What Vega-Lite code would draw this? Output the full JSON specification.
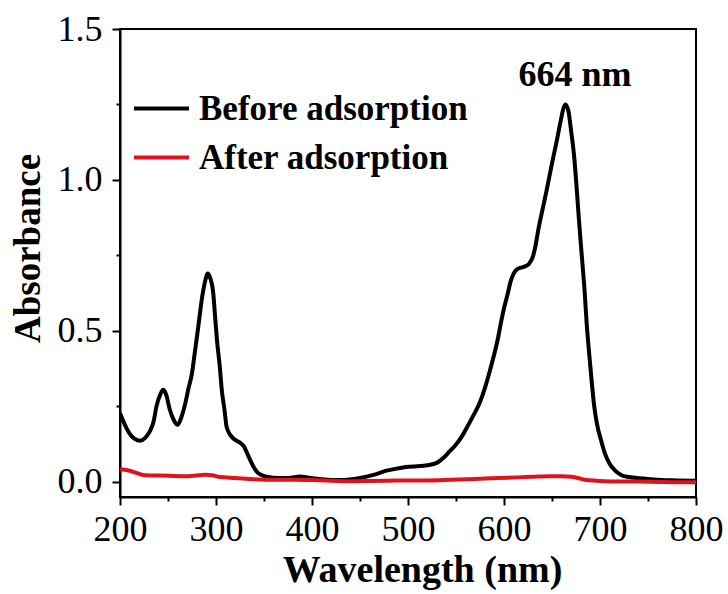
{
  "$schema": "https://vega.github.io/schema/vega-lite/v6.json",
  "width": 576,
  "height": 468,
  "autosize": {"type": "none"},
  "padding": {"left": 120, "top": 29, "right": 32, "bottom": 97},
  "background": "white",
  "config": {
    "view": {"stroke": "black", "strokeWidth": 2},
    "font": "Liberation Serif",
    "axis": {"grid": false, "domainColor": "black", "tickColor": "black", "domainWidth": 2, "tickWidth": 2, "labelColor": "black", "titleColor": "black", "labelFont": "Liberation Serif", "titleFont": "Liberation Serif"}
  },
  "datasets": {
    "spectra": [
      {"wl": 200, "abs": 0.227, "s": "Before adsorption"},
      {"wl": 205, "abs": 0.19, "s": "Before adsorption"},
      {"wl": 210, "abs": 0.16, "s": "Before adsorption"},
      {"wl": 215, "abs": 0.143, "s": "Before adsorption"},
      {"wl": 221, "abs": 0.136, "s": "Before adsorption"},
      {"wl": 226, "abs": 0.145, "s": "Before adsorption"},
      {"wl": 231, "abs": 0.167, "s": "Before adsorption"},
      {"wl": 235, "abs": 0.2, "s": "Before adsorption"},
      {"wl": 238, "abs": 0.25, "s": "Before adsorption"},
      {"wl": 242, "abs": 0.29, "s": "Before adsorption"},
      {"wl": 245, "abs": 0.305, "s": "Before adsorption"},
      {"wl": 248, "abs": 0.29, "s": "Before adsorption"},
      {"wl": 252, "abs": 0.238, "s": "Before adsorption"},
      {"wl": 256, "abs": 0.205, "s": "Before adsorption"},
      {"wl": 260, "abs": 0.189, "s": "Before adsorption"},
      {"wl": 264, "abs": 0.215, "s": "Before adsorption"},
      {"wl": 268, "abs": 0.26, "s": "Before adsorption"},
      {"wl": 271, "abs": 0.305, "s": "Before adsorption"},
      {"wl": 275, "abs": 0.36, "s": "Before adsorption"},
      {"wl": 278, "abs": 0.43, "s": "Before adsorption"},
      {"wl": 282, "abs": 0.525, "s": "Before adsorption"},
      {"wl": 285, "abs": 0.6, "s": "Before adsorption"},
      {"wl": 288, "abs": 0.655, "s": "Before adsorption"},
      {"wl": 291.5, "abs": 0.69, "s": "Before adsorption"},
      {"wl": 294, "abs": 0.675, "s": "Before adsorption"},
      {"wl": 297, "abs": 0.63, "s": "Before adsorption"},
      {"wl": 299, "abs": 0.55, "s": "Before adsorption"},
      {"wl": 301, "abs": 0.47, "s": "Before adsorption"},
      {"wl": 304, "abs": 0.38, "s": "Before adsorption"},
      {"wl": 306, "abs": 0.305, "s": "Before adsorption"},
      {"wl": 309, "abs": 0.235, "s": "Before adsorption"},
      {"wl": 311, "abs": 0.183, "s": "Before adsorption"},
      {"wl": 315, "abs": 0.155, "s": "Before adsorption"},
      {"wl": 320, "abs": 0.139, "s": "Before adsorption"},
      {"wl": 325, "abs": 0.13, "s": "Before adsorption"},
      {"wl": 329, "abs": 0.118, "s": "Before adsorption"},
      {"wl": 332, "abs": 0.098, "s": "Before adsorption"},
      {"wl": 336, "abs": 0.07, "s": "Before adsorption"},
      {"wl": 340, "abs": 0.045, "s": "Before adsorption"},
      {"wl": 343, "abs": 0.032, "s": "Before adsorption"},
      {"wl": 348, "abs": 0.022, "s": "Before adsorption"},
      {"wl": 353, "abs": 0.017, "s": "Before adsorption"},
      {"wl": 365, "abs": 0.013, "s": "Before adsorption"},
      {"wl": 375, "abs": 0.013, "s": "Before adsorption"},
      {"wl": 388, "abs": 0.018, "s": "Before adsorption"},
      {"wl": 395, "abs": 0.015, "s": "Before adsorption"},
      {"wl": 410, "abs": 0.009, "s": "Before adsorption"},
      {"wl": 430, "abs": 0.006, "s": "Before adsorption"},
      {"wl": 450, "abs": 0.013, "s": "Before adsorption"},
      {"wl": 465, "abs": 0.024, "s": "Before adsorption"},
      {"wl": 475, "abs": 0.035, "s": "Before adsorption"},
      {"wl": 490, "abs": 0.045, "s": "Before adsorption"},
      {"wl": 500, "abs": 0.05, "s": "Before adsorption"},
      {"wl": 510, "abs": 0.052, "s": "Before adsorption"},
      {"wl": 520, "abs": 0.055, "s": "Before adsorption"},
      {"wl": 530, "abs": 0.063, "s": "Before adsorption"},
      {"wl": 537, "abs": 0.08, "s": "Before adsorption"},
      {"wl": 543, "abs": 0.1, "s": "Before adsorption"},
      {"wl": 549, "abs": 0.12, "s": "Before adsorption"},
      {"wl": 556, "abs": 0.15, "s": "Before adsorption"},
      {"wl": 563, "abs": 0.19, "s": "Before adsorption"},
      {"wl": 569, "abs": 0.225, "s": "Before adsorption"},
      {"wl": 575, "abs": 0.265, "s": "Before adsorption"},
      {"wl": 580, "abs": 0.31, "s": "Before adsorption"},
      {"wl": 585, "abs": 0.365, "s": "Before adsorption"},
      {"wl": 590, "abs": 0.425, "s": "Before adsorption"},
      {"wl": 594, "abs": 0.48, "s": "Before adsorption"},
      {"wl": 597, "abs": 0.53, "s": "Before adsorption"},
      {"wl": 600, "abs": 0.575, "s": "Before adsorption"},
      {"wl": 604, "abs": 0.625, "s": "Before adsorption"},
      {"wl": 607, "abs": 0.665, "s": "Before adsorption"},
      {"wl": 610, "abs": 0.69, "s": "Before adsorption"},
      {"wl": 614, "abs": 0.705, "s": "Before adsorption"},
      {"wl": 618, "abs": 0.71, "s": "Before adsorption"},
      {"wl": 622, "abs": 0.714, "s": "Before adsorption"},
      {"wl": 626, "abs": 0.722, "s": "Before adsorption"},
      {"wl": 630, "abs": 0.745, "s": "Before adsorption"},
      {"wl": 633, "abs": 0.785, "s": "Before adsorption"},
      {"wl": 636, "abs": 0.84, "s": "Before adsorption"},
      {"wl": 640, "abs": 0.9, "s": "Before adsorption"},
      {"wl": 645, "abs": 0.975, "s": "Before adsorption"},
      {"wl": 650, "abs": 1.055, "s": "Before adsorption"},
      {"wl": 655, "abs": 1.13, "s": "Before adsorption"},
      {"wl": 659, "abs": 1.195, "s": "Before adsorption"},
      {"wl": 662, "abs": 1.238, "s": "Before adsorption"},
      {"wl": 664, "abs": 1.25, "s": "Before adsorption"},
      {"wl": 667, "abs": 1.23, "s": "Before adsorption"},
      {"wl": 670, "abs": 1.16, "s": "Before adsorption"},
      {"wl": 673, "abs": 1.08, "s": "Before adsorption"},
      {"wl": 676, "abs": 0.96, "s": "Before adsorption"},
      {"wl": 678, "abs": 0.87, "s": "Before adsorption"},
      {"wl": 681, "abs": 0.75, "s": "Before adsorption"},
      {"wl": 684, "abs": 0.63, "s": "Before adsorption"},
      {"wl": 686, "abs": 0.53, "s": "Before adsorption"},
      {"wl": 689, "abs": 0.415, "s": "Before adsorption"},
      {"wl": 692, "abs": 0.31, "s": "Before adsorption"},
      {"wl": 694, "abs": 0.25, "s": "Before adsorption"},
      {"wl": 697, "abs": 0.19, "s": "Before adsorption"},
      {"wl": 701, "abs": 0.139, "s": "Before adsorption"},
      {"wl": 705, "abs": 0.095, "s": "Before adsorption"},
      {"wl": 710, "abs": 0.06, "s": "Before adsorption"},
      {"wl": 715, "abs": 0.04, "s": "Before adsorption"},
      {"wl": 722, "abs": 0.023, "s": "Before adsorption"},
      {"wl": 730, "abs": 0.016, "s": "Before adsorption"},
      {"wl": 746, "abs": 0.011, "s": "Before adsorption"},
      {"wl": 760, "abs": 0.007, "s": "Before adsorption"},
      {"wl": 780, "abs": 0.005, "s": "Before adsorption"},
      {"wl": 800, "abs": 0.004, "s": "Before adsorption"},
      {"wl": 200, "abs": 0.042, "s": "After adsorption"},
      {"wl": 205, "abs": 0.04, "s": "After adsorption"},
      {"wl": 210, "abs": 0.037, "s": "After adsorption"},
      {"wl": 217, "abs": 0.03, "s": "After adsorption"},
      {"wl": 224, "abs": 0.023, "s": "After adsorption"},
      {"wl": 240, "abs": 0.021, "s": "After adsorption"},
      {"wl": 252, "abs": 0.02, "s": "After adsorption"},
      {"wl": 270, "abs": 0.019, "s": "After adsorption"},
      {"wl": 289, "abs": 0.024, "s": "After adsorption"},
      {"wl": 296, "abs": 0.022, "s": "After adsorption"},
      {"wl": 304, "abs": 0.016, "s": "After adsorption"},
      {"wl": 320, "abs": 0.013, "s": "After adsorption"},
      {"wl": 339, "abs": 0.009, "s": "After adsorption"},
      {"wl": 360, "abs": 0.007, "s": "After adsorption"},
      {"wl": 380, "abs": 0.007, "s": "After adsorption"},
      {"wl": 400, "abs": 0.006, "s": "After adsorption"},
      {"wl": 420, "abs": 0.004, "s": "After adsorption"},
      {"wl": 440, "abs": 0.002, "s": "After adsorption"},
      {"wl": 460, "abs": 0.003, "s": "After adsorption"},
      {"wl": 480, "abs": 0.004, "s": "After adsorption"},
      {"wl": 500, "abs": 0.005, "s": "After adsorption"},
      {"wl": 520, "abs": 0.005, "s": "After adsorption"},
      {"wl": 544, "abs": 0.007, "s": "After adsorption"},
      {"wl": 570, "abs": 0.01, "s": "After adsorption"},
      {"wl": 595, "abs": 0.013, "s": "After adsorption"},
      {"wl": 614, "abs": 0.015, "s": "After adsorption"},
      {"wl": 630, "abs": 0.017, "s": "After adsorption"},
      {"wl": 648, "abs": 0.019, "s": "After adsorption"},
      {"wl": 660, "abs": 0.019, "s": "After adsorption"},
      {"wl": 670, "abs": 0.017, "s": "After adsorption"},
      {"wl": 678, "abs": 0.012, "s": "After adsorption"},
      {"wl": 684, "abs": 0.007, "s": "After adsorption"},
      {"wl": 700, "abs": 0.003, "s": "After adsorption"},
      {"wl": 718, "abs": 0.001, "s": "After adsorption"},
      {"wl": 740, "abs": 0.001, "s": "After adsorption"},
      {"wl": 760, "abs": 0.0, "s": "After adsorption"},
      {"wl": 780, "abs": -0.001, "s": "After adsorption"},
      {"wl": 800, "abs": -0.001, "s": "After adsorption"}
    ],
    "note": [{"wl": 674, "abs": 1.31, "label": "664 nm"}]
  },
  "resolve": {"axis": {"x": "independent", "y": "independent"}},
  "layer": [
    {
      "data": {"name": "spectra"},
      "transform": [{"filter": "datum.s === 'Before adsorption'"}],
      "mark": {"type": "line", "strokeWidth": 4, "interpolate": "monotone", "clip": true},
      "encoding": {
        "x": {"field": "wl", "type": "quantitative", "scale": {"domain": [200, 800], "nice": false, "zero": false},
          "axis": {"orient": "bottom", "values": [200, 300, 400, 500, 600, 700, 800], "tickSize": 8, "labelFontSize": 36, "labelPadding": 7, "title": "Wavelength (nm)", "titleFontSize": 38, "titleFontWeight": "bold", "titlePadding": 4, "titleX": 302, "labelFlush": false, "labelOverlap": false}},
        "y": {"field": "abs", "type": "quantitative", "scale": {"domain": [-0.05, 1.5], "nice": false, "zero": false},
          "axis": {"orient": "left", "values": [0, 0.5, 1, 1.5], "format": ".1f", "tickSize": 8, "labelFontSize": 36, "labelPadding": 10, "title": "Absorbance", "titleFontSize": 37, "titleFontWeight": "bold", "titlePadding": 10, "titleY": 219, "labelFlush": false, "labelOverlap": false}},
        "color": {"field": "s", "type": "nominal",
          "scale": {"domain": ["Before adsorption", "After adsorption"], "range": ["#000000", "#e0121a"]},
          "legend": {"orient": "none", "legendX": 12, "legendY": 50, "title": null, "symbolType": "stroke", "symbolSize": 3025, "symbolStrokeWidth": 4, "labelFont": "Liberation Serif", "labelFontWeight": "bold", "labelFontSize": 35, "labelColor": "black", "labelLimit": 500, "labelOffset": 8, "rowPadding": 1, "padding": 0}}
      }
    },
    {
      "data": {"name": "spectra"},
      "transform": [{"filter": "datum.s === 'After adsorption'"}],
      "mark": {"type": "line", "strokeWidth": 4, "interpolate": "monotone", "clip": true},
      "encoding": {
        "x": {"field": "wl", "type": "quantitative",
          "axis": {"orient": "bottom", "values": [250, 350, 450, 550, 650, 750], "tickSize": 4, "labels": false, "domain": false, "title": null}},
        "y": {"field": "abs", "type": "quantitative",
          "axis": {"orient": "left", "values": [0.25, 0.75, 1.25], "tickSize": 4, "labels": false, "domain": false, "title": null}},
        "color": {"field": "s", "type": "nominal"}
      }
    },
    {
      "data": {"name": "note"},
      "mark": {"type": "text", "font": "Liberation Serif", "fontWeight": "bold", "fontSize": 36, "color": "black", "align": "center", "baseline": "alphabetic"},
      "encoding": {
        "x": {"field": "wl", "type": "quantitative", "axis": null},
        "y": {"field": "abs", "type": "quantitative", "axis": null},
        "text": {"field": "label"}
      }
    }
  ]
}
